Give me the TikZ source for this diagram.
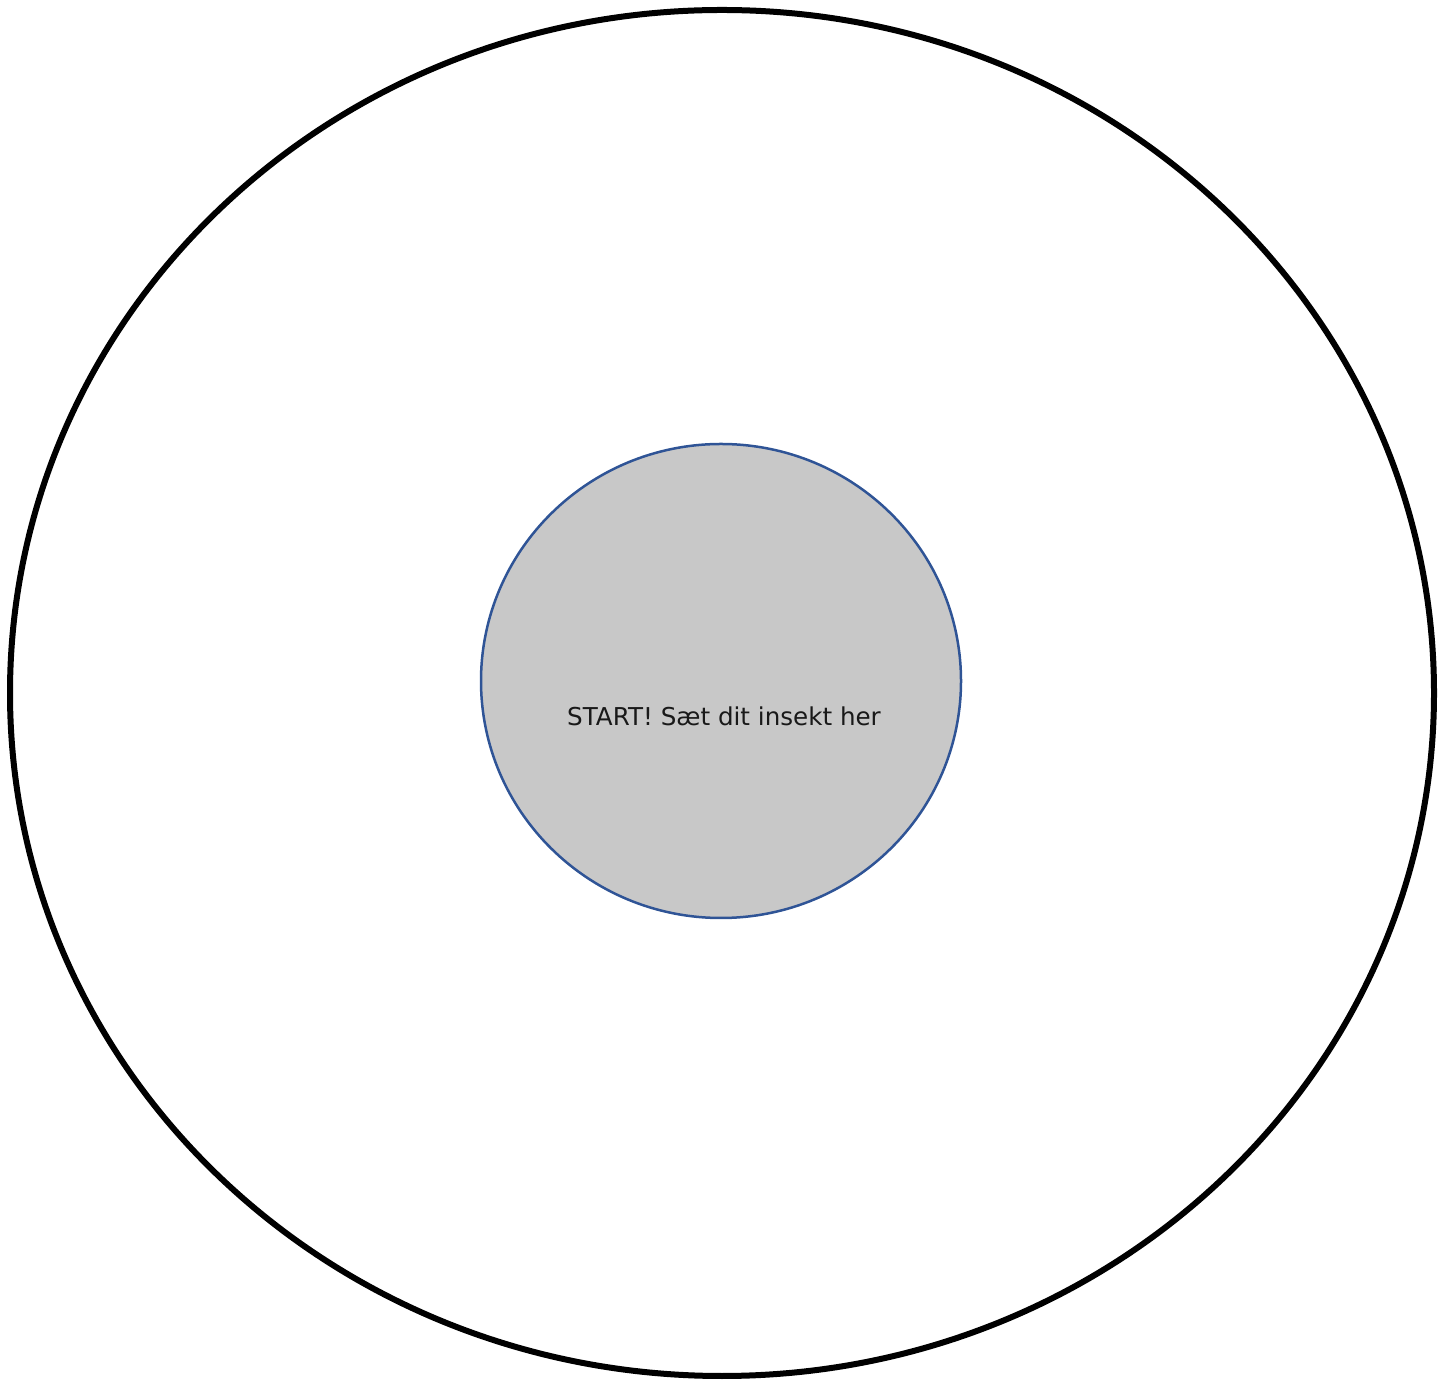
\documentclass[tikz,border=0pt]{standalone}
\usepackage{fontspec}
\setmainfont{DejaVu Sans}
\definecolor{ringblue}{HTML}{2F5496}
\definecolor{startgray}{HTML}{C8C8C8}
\tikzset{
  outerring/.style={draw=black, line width=6pt},
  startzone/.style={draw=ringblue, fill=startgray, line width=2.5pt},
  starttext/.style={font=\fontsize{24.6}{29}\selectfont, text=black!90}
}
\begin{document}
\begin{tikzpicture}[x=1pt,y=1pt]
\useasboundingbox (0,0) rectangle (1451,1379);
\path[outerring] (722,686) ellipse [x radius=712, y radius=683];
\path[startzone] (721,698) ellipse [x radius=240, y radius=237];
\node[starttext] (start) at (724,663) {START! Sæt dit insekt her};
\end{tikzpicture}
\end{document}
